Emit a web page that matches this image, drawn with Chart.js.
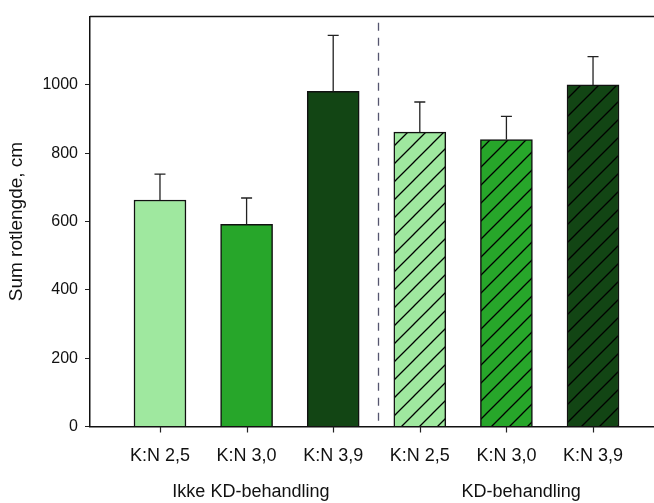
<!DOCTYPE html>
<html>
<head>
<meta charset="utf-8">
<script src="https://cdn.jsdelivr.net/npm/chart.js@4.4.0/dist/chart.umd.min.js"></script>
<style>
  html, body { margin: 0; padding: 0; background: #fff; overflow: hidden; }
  #wrap { position: relative; width: 654px; height: 503px; }
</style>
</head>
<body>
<div id="wrap"><canvas id="chart" width="654" height="503"></canvas></div>
<script>
// Sum rotlengde per K:N ratio, without / with KD treatment
const categories = ['K:N 2,5', 'K:N 3,0', 'K:N 3,9', 'K:N 2,5', 'K:N 3,0', 'K:N 3,9'];
const rootLength = [663, 592, 981, 862, 840, 1000];
const rootLengthErr = [76, 77, 164, 88, 68, 83];
const groupLabels = ['Ikke KD-behandling', 'KD-behandling'];
const groupCenters = [1.05, 4.17];
const yTicks = [0, 200, 400, 600, 800, 1000];
const separatorAt = 2.52;

const FONT = '"Liberation Sans", Arial, sans-serif';
const canvas = document.getElementById('chart');
const ctx = canvas.getContext('2d');

// diagonal hatch fill for the KD-behandling bars
function hatch(color) {
    const c = document.createElement('canvas');
    c.width = c.height = 18;
    const g = c.getContext('2d');
    g.fillStyle = color;
    g.fillRect(0, 0, 18, 18);
    g.strokeStyle = '#000';
    g.lineWidth = 1.3;
    g.beginPath();
    g.moveTo(0, 18); g.lineTo(18, 0);
    g.moveTo(-2, 2); g.lineTo(2, -2);
    g.moveTo(16, 20); g.lineTo(20, 16);
    g.stroke();
    return ctx.createPattern(c, 'repeat');
}

const light = '#9fe89f', medium = '#27a62a', dark = '#124514';
const fills = [light, medium, dark, hatch(light), hatch(medium), hatch(dark)];

const overlay = {
    id: 'overlay',
    afterDatasetsDraw(chart) {
        const c = chart.ctx, xs = chart.scales.x, ys = chart.scales.y, a = chart.chartArea;
        c.save();

        // error bars (upper only)
        c.strokeStyle = '#222';
        c.lineWidth = 1.3;
        chart.getDatasetMeta(0).data.forEach((bar, i) => {
            const top = ys.getPixelForValue(rootLength[i] + rootLengthErr[i]);
            c.beginPath();
            c.moveTo(bar.x, bar.y); c.lineTo(bar.x, top);
            c.moveTo(bar.x - 5.5, top); c.lineTo(bar.x + 5.5, top);
            c.stroke();
        });

        // tick marks under the category axis
        c.strokeStyle = '#222';
        c.lineWidth = 1.2;
        c.beginPath();
        categories.forEach((_, i) => {
            const px = Math.round(xs.getPixelForValue(i)) + 0.5;
            c.moveTo(px, a.bottom); c.lineTo(px, a.bottom + 6);
        });
        c.stroke();

        // dashed separator between the groups
        const sx = Math.round(xs.getPixelForValue(separatorAt)) + 0.5;
        c.strokeStyle = '#55556e';
        c.lineWidth = 1.3;
        c.setLineDash([8, 7]);
        c.beginPath();
        c.moveTo(sx, ys.getPixelForValue(1182));
        c.lineTo(sx, ys.getPixelForValue(10));
        c.stroke();
        c.setLineDash([]);

        // top frame line
        c.strokeStyle = '#111';
        c.lineWidth = 1.5;
        c.beginPath();
        c.moveTo(a.left, a.top); c.lineTo(a.right, a.top);
        c.stroke();

        // group labels
        c.font = '18px ' + FONT;
        c.fillStyle = '#111';
        c.textAlign = 'center';
        c.textBaseline = 'middle';
        groupLabels.forEach((t, i) => c.fillText(t, xs.getPixelForValue(groupCenters[i]), 492));
        c.restore();
    }
};

new Chart(ctx, {
    type: 'bar',
    data: {
        datasets: [{
            data: rootLength.map((v, i) => ({ x: i, y: v })),
            backgroundColor: fills,
            borderColor: '#111',
            borderWidth: 1.5,
            barThickness: 52
        }]
    },
    options: {
        responsive: false,
        animation: false,
        layout: { padding: { top: 13, left: 0, right: 0, bottom: 0 } },
        plugins: { legend: { display: false }, tooltip: { enabled: false } },
        scales: {
            x: {
                type: 'linear',
                offset: false,
                min: -0.808,
                max: 5.704,
                afterBuildTicks: s => { s.ticks = categories.map((_, i) => ({ value: i })); },
                afterFit: s => { s.height = 76.5; },
                grid: { offset: false, drawOnChartArea: false, drawTicks: true, tickLength: 6, color: 'rgba(0,0,0,0)' },
                border: { color: '#111', width: 1.5 },
                ticks: {
                    callback: v => categories[v],
                    font: { size: 18, family: FONT },
                    color: '#111',
                    padding: 13,
                    maxRotation: 0,
                    autoSkip: false
                }
            },
            y: {
                min: 0,
                max: 1200,
                afterBuildTicks: s => { s.ticks = yTicks.map(v => ({ value: v })); },
                afterFit: s => { s.width = 90; },
                grid: { drawOnChartArea: false, drawTicks: true, tickLength: 5, color: '#222' },
                border: { color: '#111', width: 1.5 },
                ticks: { callback: v => String(v), font: { size: 16, family: FONT }, color: '#111', padding: 7 },
                title: {
                    display: true,
                    text: 'Sum rotlengde, cm',
                    font: { size: 19, family: FONT },
                    color: '#111',
                    padding: { top: 5, bottom: 0 }
                }
            }
        }
    },
    plugins: [overlay]
});
</script>
</body>
</html>
